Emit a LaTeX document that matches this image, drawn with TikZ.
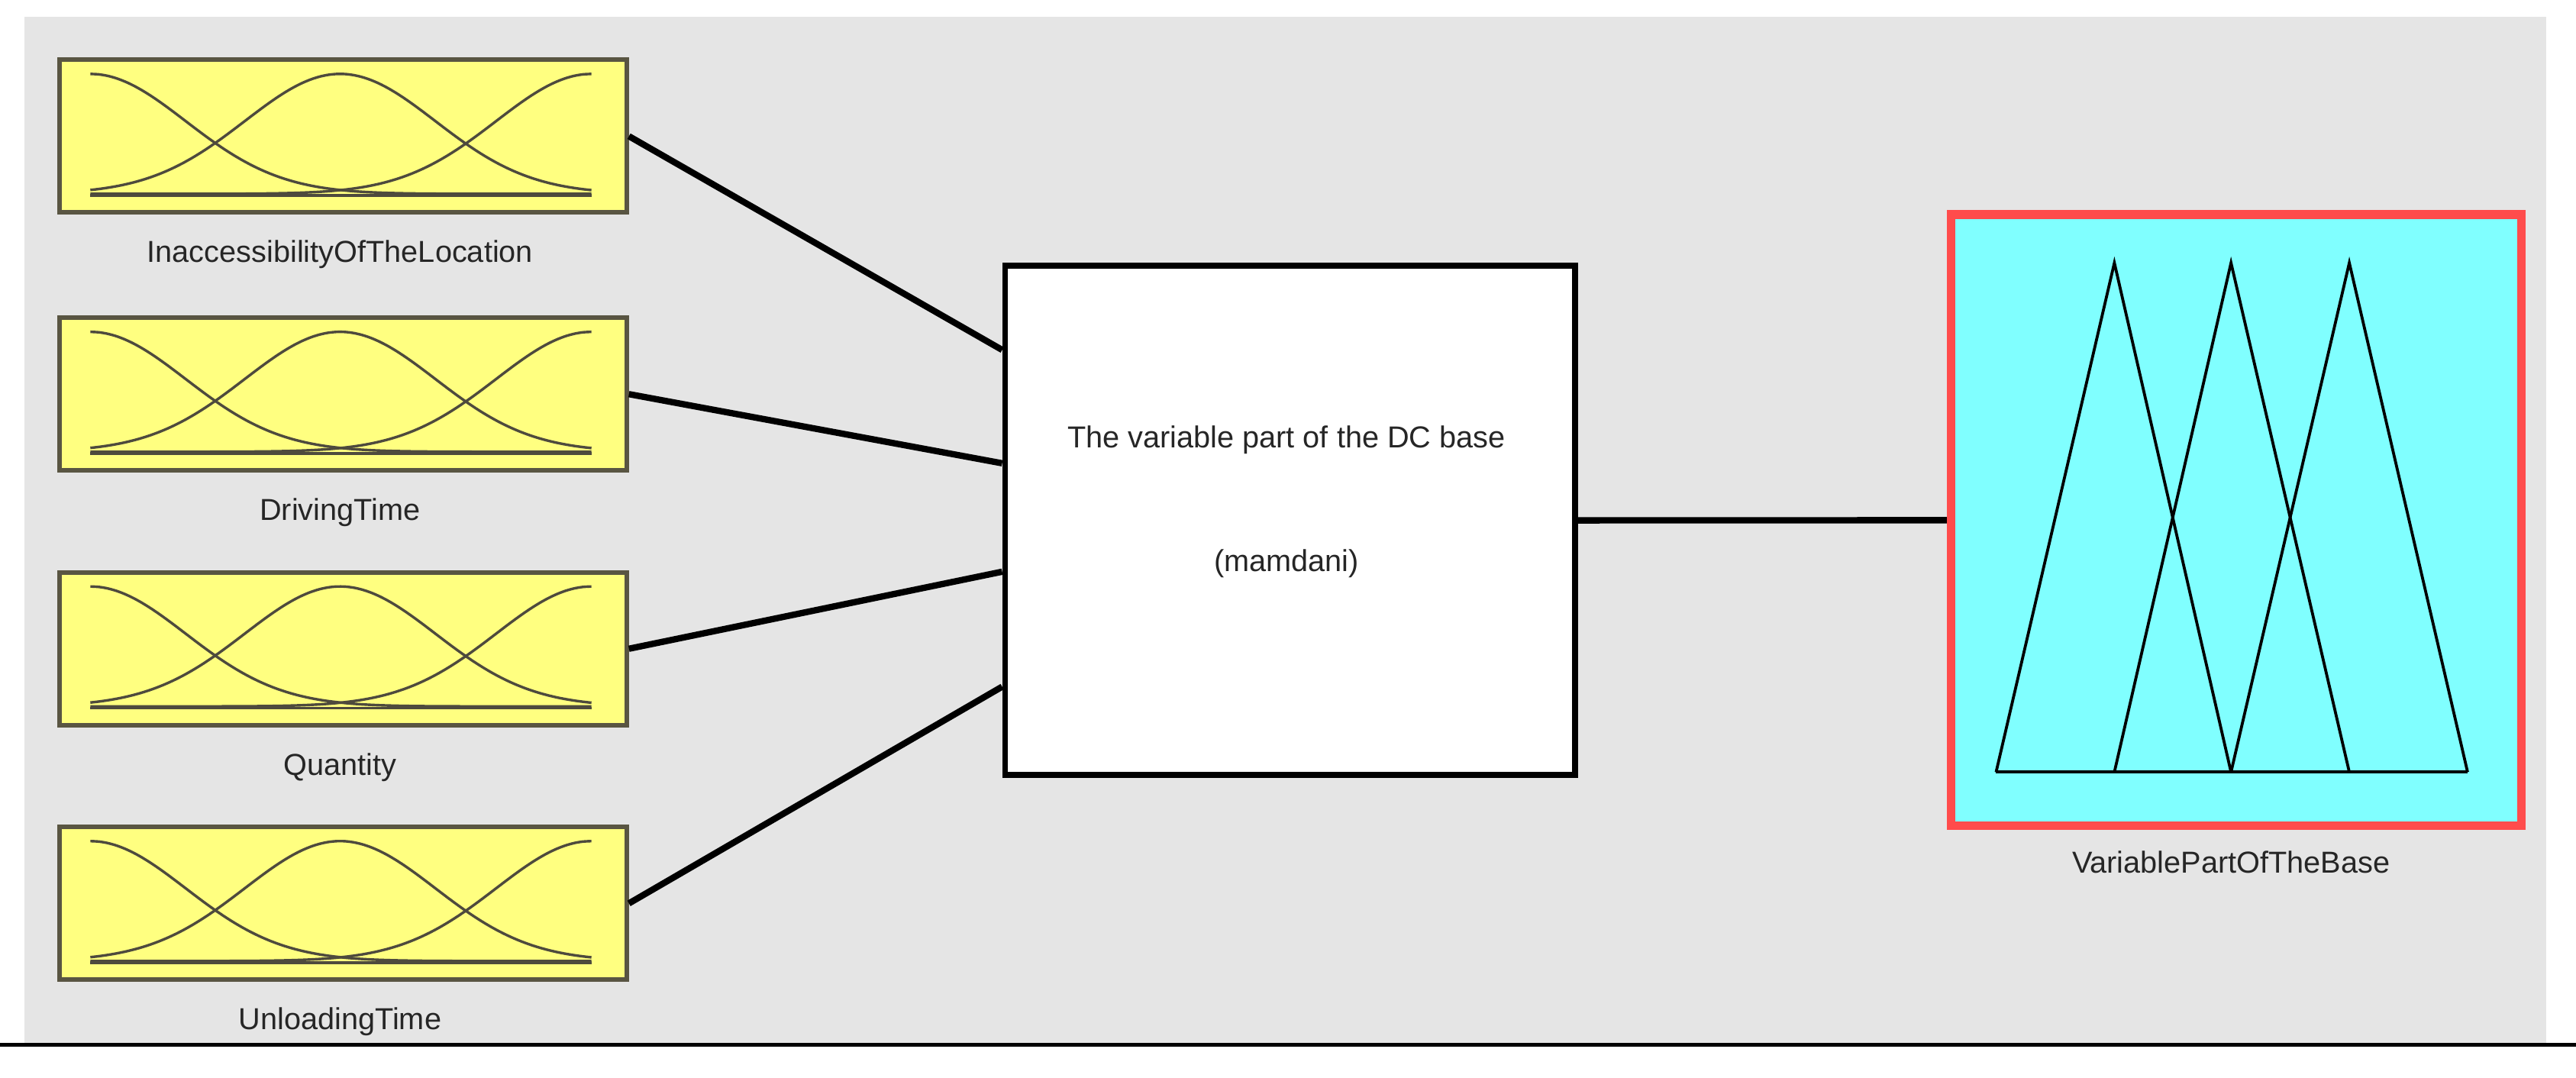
\documentclass[tikz,border=0pt]{standalone}
\usepackage{fontspec}
\setmainfont{Liberation Sans}
\definecolor{cy}{RGB}{128,255,255}
\definecolor{ye}{RGB}{255,255,128}
\begin{document}
\begin{tikzpicture}[x=0.02cm,y=-0.02cm,
  inbox/.style={draw=black!75!yellow,line width=1.6pt,fill=ye},
  lbl/.style={font=\fontsize{10.5}{12}\selectfont,text=black!85},
  conn/.style={line width=2.2pt},
  mf/.style={line width=0.9pt,black!80!yellow}]
\useasboundingbox (0,0) rectangle (1568,656);
\fill[gray!20] (15,10) rectangle (1550,635);
\draw[line width=1.2pt] (0,636) -- (1568,636);
\foreach \n/\t/\lab in {a/35/InaccessibilityOfTheLocation,b/192/DrivingTime,c/347/Quantity,d/502/UnloadingTime}{
  \node[inbox,minimum width=345*0.02cm,minimum height=93*0.02cm,inner sep=0,anchor=north west] (\n) at (35,\t) {};
  \node[lbl] (\n l) at (207,\t+120) {\lab};
  \begin{scope}[shift={(0,\t)}]
    \draw[mf] plot[domain=55:360,samples=60,smooth] (\x,{83-73*exp(-((\x-55)/58)^2/2)});
    \draw[mf] plot[domain=55:360,samples=60,smooth] (\x,{83-73*exp(-((\x-207)/58)^2/2)});
    \draw[mf] plot[domain=55:360,samples=60,smooth] (\x,{83-73*exp(-((\x-360)/58)^2/2)});
    \draw[mf] (55,84) -- (360,84);
  \end{scope}
}
\node[draw,fill=white,line width=2pt,minimum width=347*0.02cm,minimum height=310*0.02cm,inner sep=0,anchor=north west] (m) at (610,160) {};
\node[lbl] (m1) at (783,268) {The variable part of the DC base};
\node[lbl] (m2) at (783,343) {(mamdani)};
\coordinate (m a) at (610,213);
\coordinate (m b) at (610,282);
\coordinate (m c) at (610,348);
\coordinate (m d) at (610,418);
\draw[conn] (a.east) -- (m a);
\draw[conn] (b.east) -- (m b);
\draw[conn] (c.east) -- (m c);
\draw[conn] (d.east) -- (m d);
\node[draw=red!70,fill=cy,line width=3pt,minimum width=347*0.02cm,minimum height=372*0.02cm,inner sep=0,anchor=north west] (o) at (1185,128) {};
\node[lbl] (ol) at (1358,525) {VariablePartOfTheBase};
\draw[conn] (m.east) -- (o.west);
\draw[line width=1pt] (1215,470) -- (1287,160) -- (1358,470);
\draw[line width=1pt] (1287,470) -- (1358,160) -- (1430,470);
\draw[line width=1pt] (1358,470) -- (1430,160) -- (1502,470);
\draw[line width=1pt] (1215,470) -- (1502,470);
\end{tikzpicture}
\end{document}
